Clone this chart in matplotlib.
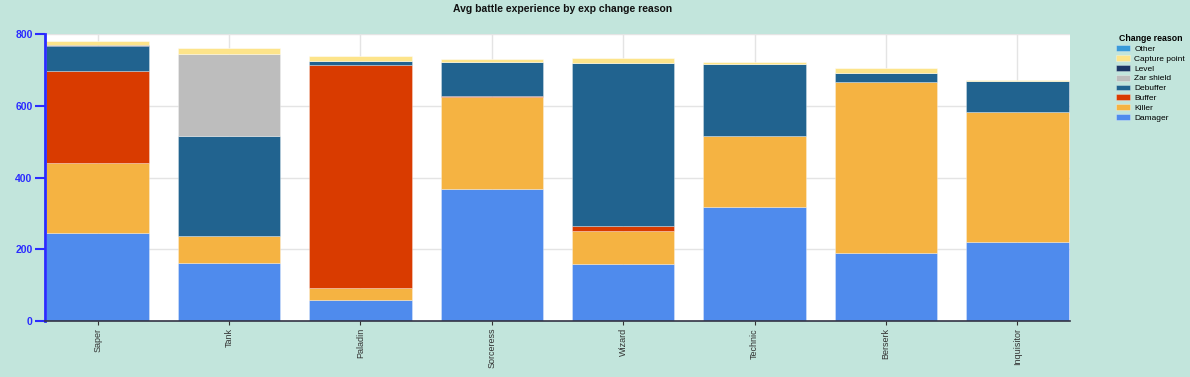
import matplotlib
matplotlib.use("Agg")
import matplotlib.pyplot as plt
import numpy as np

plt.rcParams["font.family"] = ["Liberation Sans", "DejaVu Sans"]

# --- dados ---
classes = ["Saper", "Tank", "Paladin", "Sorceress", "Wizard", "Technic", "Berserk", "Inquisitor"]

damager = [245, 161, 58, 368, 158, 319, 189, 220]
killer = [195, 76, 34, 257, 93, 197, 476, 362]
buffer_ = [257, 0, 621, 2, 14, 0, 0, 0]
debuffer = [69, 279, 12, 95, 453, 199, 26, 88]
zar_shield = [0, 227, 0, 0, 0, 0, 0, 0]
level = [2, 0, 0, 0, 0, 0, 0, 0]
capture_point = [13, 17, 13, 8, 14, 7, 14, 3]
other = [0, 0, 0, 0, 0, 0, 0, 0]

series = [
    ("Damager", damager, "#4f8bed"),
    ("Killer", killer, "#f5b342"),
    ("Buffer", buffer_, "#d93b00"),
    ("Debuffer", debuffer, "#21638f"),
    ("Zar shield", zar_shield, "#bdbdbd"),
    ("Level", level, "#1c3664"),
    ("Capture point", capture_point, "#fde48a"),
    ("Other", other, "#3a9ad9"),
]

BG = "#c2e5dc"
AXIS_BLUE = "#2b2bff"

fig = plt.figure(figsize=(11.9, 3.77), dpi=100, facecolor=BG)
ax = fig.add_axes([45 / 1190, 1 - 321 / 377, 1025 / 1190, 287 / 377])
ax.set_facecolor("white")

x = np.arange(len(classes))
bottom = np.zeros(len(classes))
handles = []
for nome, valores, cor in series:
    vals = np.array(valores, dtype=float)
    b = ax.bar(x, vals, bottom=bottom, width=0.78, color=cor,
               edgecolor=(1, 1, 1, 0.35), linewidth=0.6, label=nome, zorder=2)
    handles.append(b)
    bottom += vals

ax.set_xlim(-0.4, len(classes) - 0.6)
ax.set_ylim(0, 800)
ax.set_yticks([0, 200, 400, 600, 800])
ax.set_xticks(x)
ax.set_xticklabels(classes, rotation=90, fontsize=6.5, color="#333333")

ax.grid(True, color="#e4e4e4", linewidth=1, zorder=0)
ax.set_axisbelow(True)

for lado in ("top", "right"):
    ax.spines[lado].set_visible(False)
ax.spines["left"].set_color(AXIS_BLUE)
ax.spines["left"].set_linewidth(2)
ax.spines["bottom"].set_color("#333344")
ax.spines["bottom"].set_linewidth(1.2)

ax.tick_params(axis="y", colors=AXIS_BLUE, length=7, width=1.5, labelsize=7.5, pad=2)
ax.tick_params(axis="x", colors="#333333", length=3, width=0.8, pad=2)
for lbl in ax.get_yticklabels():
    lbl.set_fontweight("bold")

fig.text(0.473, 1 - 9 / 377, "Avg battle experience by exp change reason",
         ha="center", va="center", fontsize=7.5, fontweight="bold", color="#111111")

leg = fig.legend(handles[::-1], [s[0] for s in series][::-1],
                 loc="upper left", bbox_to_anchor=(1110 / 1190, 1 - 28 / 377),
                 frameon=False, fontsize=6, title="Change reason",
                 title_fontproperties={"weight": "bold", "size": 6.3},
                 handlelength=1.7, handleheight=0.7, handletextpad=0.5,
                 labelspacing=0.25, borderpad=0.2)

fig.savefig("out.png", dpi=100, facecolor=BG)
